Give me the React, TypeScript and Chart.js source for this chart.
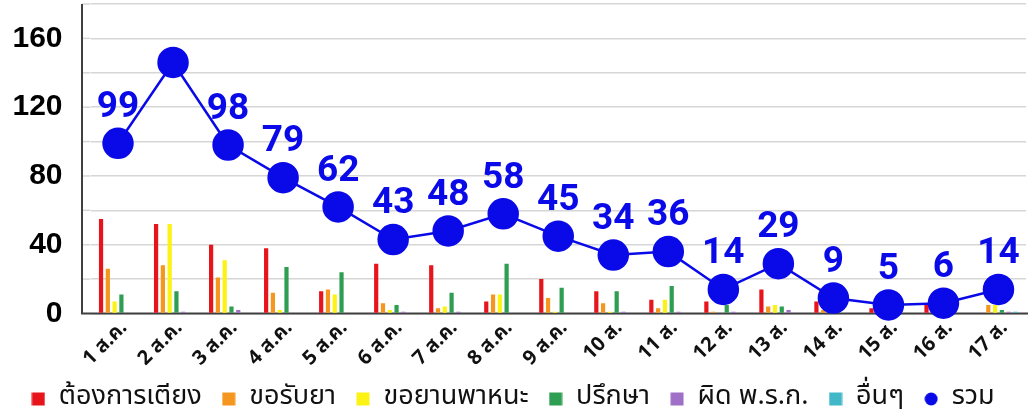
import React, { useEffect, useRef } from "react";
import { Chart, registerables } from "chart.js";

Chart.register(...registerables);

const labels = ["1 ส.ค.", "2 ส.ค.", "3 ส.ค.", "4 ส.ค.", "5 ส.ค.", "6 ส.ค.", "7 ส.ค.", "8 ส.ค.", "9 ส.ค.", "10 ส.", "11 ส.", "12 ส.", "13 ส.", "14 ส.", "15 ส.", "16 ส.", "17 ส."];
const bed = [55, 52, 40, 38, 13, 29, 28, 7, 20, 13, 8, 7, 14, 7, 3, 5, 0];
const medicine = [26, 28, 21, 12, 14, 6, 3, 11, 9, 6, 3, 1, 4, 2, 1, 1, 5];
const vehicle = [7, 52, 31, 2, 11, 2, 4, 11, 1, 1, 8, 0, 5, 0, 0, 0, 5];
const consult = [11, 13, 4, 27, 24, 5, 12, 29, 15, 13, 16, 5, 4, 0, 1, 0, 2];
const decree = [0, 1, 2, 0, 0, 1, 1, 0, 0, 1, 1, 1, 2, 0, 0, 0, 1];
const other = [0, 0, 0, 0, 0, 0, 0, 0, 0, 0, 0, 0, 0, 0, 0, 0, 1];
const total = [99, 146, 98, 79, 62, 43, 48, 58, 45, 34, 36, 14, 29, 9, 5, 6, 14];
const hiddenLabels = [1];
const yTickValues = [0, 40, 80, 120, 160];

const BLUE = "#0a0ae8";
const THAI = "Tahoma, 'Noto Sans Thai', 'Noto Sans', 'DejaVu Sans', sans-serif";

const leftExtend = {
  id: "leftExtend",
  beforeDatasetsDraw(chart: any) {
    const { ctx, chartArea, scales } = chart;
    const y = scales.y;
    const x0 = chartArea.left - 8.5;
    ctx.save();
    ctx.strokeStyle = "#d6d6d6";
    ctx.lineWidth = 1.5;
    y.ticks.forEach((t: any) => {
      if (t.value === 0) return;
      const py = y.getPixelForValue(t.value);
      ctx.beginPath();
      ctx.moveTo(x0, py);
      ctx.lineTo(chartArea.left, py);
      ctx.stroke();
    });
    ctx.strokeStyle = "#404040";
    ctx.lineWidth = 2;
    ctx.beginPath();
    ctx.moveTo(x0, chartArea.top);
    ctx.lineTo(x0, y.getPixelForValue(0));
    ctx.lineTo(chartArea.right + 2, y.getPixelForValue(0));
    ctx.stroke();
    ctx.restore();
  },
};

const valueLabels = {
  id: "valueLabels",
  afterDatasetsDraw(chart: any) {
    const ctx = chart.ctx;
    const idx = chart.data.datasets.length - 1;
    const meta = chart.getDatasetMeta(idx);
    ctx.save();
    ctx.fillStyle = BLUE;
    ctx.font = "bold 37px Roboto, 'Liberation Sans', sans-serif";
    ctx.textAlign = "center";
    ctx.textBaseline = "middle";
    meta.data.forEach((pt: any, i: number) => {
      if (hiddenLabels.includes(i)) return;
      ctx.fillText(String(total[i]), pt.x, pt.y - 35.5);
    });
    ctx.restore();
  },
};

function markerImage(color: string, round: boolean) {
  const c = document.createElement("canvas");
  c.width = 14;
  c.height = 14;
  const g = c.getContext("2d")!;
  g.fillStyle = color;
  if (round) {
    g.beginPath();
    g.arc(7, 7, 6.5, 0, Math.PI * 2);
    g.fill();
  } else {
    g.fillRect(0.5, 0.5, 13, 13);
  }
  return c;
}

export default function App() {
  const ref = useRef<HTMLCanvasElement>(null);
  useEffect(() => {
    if (!ref.current) return;
    const mk = (label: string, data: number[], color: string) => ({
      type: "bar" as const,
      label,
      data,
      backgroundColor: color,
      borderWidth: 0,
      categoryPercentage: 0.74,
      barPercentage: 0.62,
      pointStyle: "rect",
      order: 1,
    });
    const chart = new Chart(ref.current, {
      data: {
        labels,
        datasets: [
          mk("ต้องการเตียง", bed, "#e8141c"),
          mk("ขอรับยา", medicine, "#f5961e"),
          mk("ขอยานพาหนะ", vehicle, "#fcf214"),
          mk("ปรึกษา", consult, "#2e9e52"),
          mk("ผิด พ.ร.ก.", decree, "#a070c8"),
          mk("อื่นๆ", other, "#40b8c8"),
          {
            type: "line" as const,
            label: "รวม",
            data: total,
            borderColor: BLUE,
            backgroundColor: BLUE,
            borderWidth: 2.5,
            pointRadius: 14.5,
            pointHoverRadius: 14.5,
            pointStyle: "circle",
            clip: false,
            order: 0,
          } as any,
        ],
      },
      options: {
        animation: false,
        responsive: false,
        layout: { autoPadding: false, padding: { top: 4, right: 2, bottom: -8.5, left: 0 } },
        scales: {
          x: {
            offset: true,
            grid: { display: false, drawTicks: false },
            border: { display: false },
            ticks: {
              minRotation: 45,
              maxRotation: 45,
              autoSkip: false,
              color: "#111",
              padding: 5,
              labelOffset: 7,
              font: { family: THAI, size: 20, weight: "bold", lineHeight: 1 },
            },
            afterFit(s: any) {
              s.height = 52;
              s.paddingLeft = 0;
              s.paddingRight = 0;
            },
          },
          y: {
            min: 0,
            max: 180,
            grid: { color: "#d6d6d6", lineWidth: 1.5, drawTicks: false },
            border: { display: false },
            ticks: {
              stepSize: 20,
              padding: 28,
              color: "#000",
              font: { family: "'Liberation Sans', Arial, sans-serif", size: 30, weight: "bold", lineHeight: 0.1 },
              callback: (v: any) => (yTickValues.includes(Number(v)) ? String(v) : ""),
            },
            afterFit(s: any) {
              s.width = 90.5;
              s.paddingTop = 0;
              s.paddingBottom = 0;
            },
          },
        },
        plugins: {
          legend: {
            position: "bottom",
            labels: {
              usePointStyle: true,
              boxWidth: 14,
              boxHeight: 14,
              padding: 20,
              color: "#111",
              font: { family: THAI, size: 27 },
              sort: (a: any, b: any) => a.datasetIndex - b.datasetIndex,
              generateLabels(ch: any) {
                const items = (Chart as any).defaults.plugins.legend.labels.generateLabels(ch);
                return items.map((it: any) => {
                  const ds = ch.data.datasets[it.datasetIndex];
                  const isLine = ds.type === "line";
                  return { ...it, pointStyle: markerImage(ds.backgroundColor, isLine) };
                });
              },
            },
          },
          tooltip: { enabled: false },
        },
      } as any,
      plugins: [leftExtend, valueLabels],
    });
    return () => chart.destroy();
  }, []);
  return (
    <div style={{ position: "fixed", left: 0, top: 0, width: 1028, height: 414, background: "#fff" }}>
      <canvas ref={ref} width={1028} height={414} style={{ display: "block" }} />
    </div>
  );
}
